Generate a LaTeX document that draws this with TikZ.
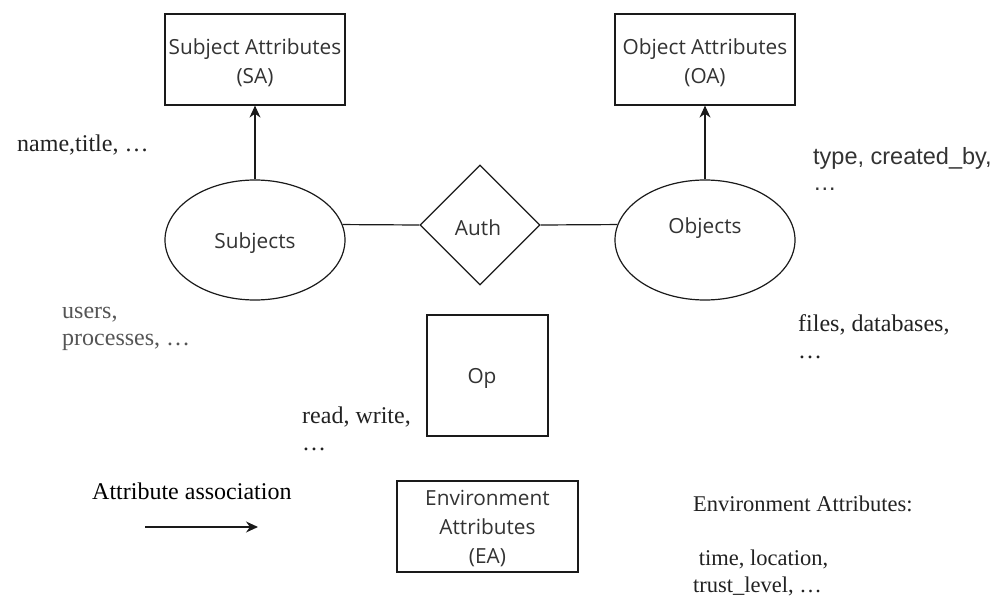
\documentclass[tikz,border=0pt]{standalone}
\usepackage{fontspec}
\setmainfont{Liberation Serif}
\newfontfamily\labfont{Open Sans}
\newfontfamily\arialfont{Liberation Sans}
\usetikzlibrary{shapes.geometric,arrows.meta}
\definecolor{lab}{HTML}{333333}
\definecolor{ln}{HTML}{1A1A1A}
\definecolor{greytxt}{HTML}{555555}
\definecolor{darktxt}{HTML}{222222}
\begin{document}
\begin{tikzpicture}[x=1pt,y=-1pt,
  shp/.style={draw=ln,line width=1.2pt,inner sep=0pt},
  box/.style={shp,rectangle},
  ell/.style={shp,ellipse,minimum width=180pt,minimum height=120pt},
  dia/.style={shp,diamond,minimum width=120pt,minimum height=120pt},
  lbl/.style={text=lab,align=center,inner sep=0pt,font=\labfont\fontsize{20.8}{29}\selectfont},
  conn/.style={draw=ln,line width=1.2pt},
  assoc/.style={conn,-{Stealth[length=12pt,width=11pt]}},
  note/.style={anchor=base west,inner sep=0pt,align=left,font=\fontsize{24}{27}\selectfont},
  notes/.style={anchor=base west,inner sep=0pt,align=left,font=\fontsize{22.5}{27}\selectfont},
  anote/.style={anchor=base west,inner sep=0pt,align=left,font=\arialfont\fontsize{23.5}{25}\selectfont}
]
\useasboundingbox (0,0) rectangle (1002,599);
\fill[white] (0,0) rectangle (1002,599);

% boxes
\node[box,minimum width=180pt,minimum height=91pt] (SA) at (255,59.5) {};
\node[lbl] (SAt) at (255,63) {Subject Attributes\\(SA)};
\node[box,minimum width=180pt,minimum height=91pt] (OA) at (705,59.5) {};
\node[lbl] (OAt) at (705,63) {Object Attributes\\(OA)};
\node[box,minimum width=121pt,minimum height=121pt] (Op) at (487.5,375.5) {};
\node[lbl] (Opt) at (482,378) {Op};
\node[box,minimum width=181pt,minimum height=91pt] (EA) at (487.5,526.5) {};
\node[lbl] (EAt) at (487.5,528.5) {Environment\\Attributes\\(EA)};

% entities
\node[ell] (Subj) at (255,240) {};
\node[lbl] (subjlbl) at (255,243) {Subjects};
\node[ell] (Obj) at (705,240) {};
\node[lbl] (objlbl) at (705,228) {Objects};
\node[dia] (Auth) at (480,225) {};
\node[lbl] (authlbl) at (478,228) {Auth};

% connectors
\draw[assoc] (Subj.north) -- (SA.south);
\draw[assoc] (Obj.north) -- (OA.south);
\draw[conn] (Subj.10) -- (Auth.west);
\draw[conn] (Auth.east) -- (Obj.170);

% legend
\node[note,text=black] (legtxt) at (92,499) {Attribute association};
\coordinate (legA) at (145,527);
\coordinate (legB) at (258,527);
\draw[assoc] (legA) -- (legB);

% annotations (anchored at baseline of last line)
\node[note,text=darktxt] (n1) at (17,152) {name,title, \dots};
\node[note,text=greytxt] (n2) at (62,345) {users,\\processes, \dots};
\node[note,text=darktxt] (n3) at (302,450) {read, write,\\\dots};
\node[note,text=darktxt] (n4) at (798,358) {files, databases,\\\dots};
\node[anote,text=lab] (n5) at (813,190) {type, created\_by,\\\dots};
\node[notes,text=darktxt] (n6) at (693,592) {Environment Attributes:\\[27pt]\ time, location,\\trust\_level, \dots};
\end{tikzpicture}
\end{document}
